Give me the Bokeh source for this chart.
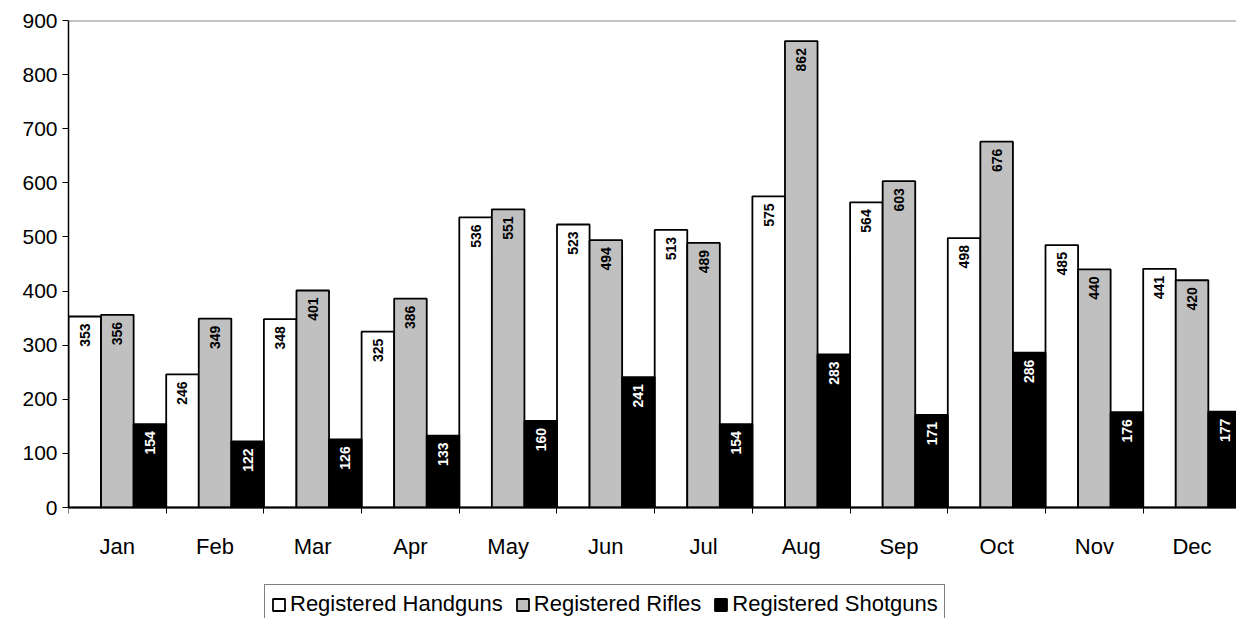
import math
from bokeh.plotting import figure
from bokeh.models import (ColumnDataSource, Range1d, FixedTicker, Span, Legend, LegendItem)
from bokeh.core.properties import value
from bokeh.embed import file_html
from bokeh.resources import INLINE

months = ["Jan", "Feb", "Mar", "Apr", "May", "Jun", "Jul", "Aug", "Sep", "Oct", "Nov", "Dec"]
handguns = [353, 246, 348, 325, 536, 523, 513, 575, 564, 498, 485, 441]
rifles = [356, 349, 401, 386, 551, 494, 489, 862, 603, 676, 440, 420]
shotguns = [154, 122, 126, 133, 160, 241, 154, 283, 171, 286, 176, 177]
series_names = ["Registered Handguns", "Registered Rifles", "Registered Shotguns"]
y_ticks = [0, 100, 200, 300, 400, 500, 600, 700, 800, 900]

FONT = "Liberation Sans"

# frame spans the whole height below the top border; value 0 sits 111px above the bottom
Y_MAX = 900
px_per_unit = 487 / Y_MAX
y_min = -111 / px_per_unit

p = figure(width=1236, height=618, output_backend="svg", toolbar_location=None,
           x_range=Range1d(0, 11.955), y_range=Range1d(y_min, Y_MAX),
           min_border_left=68, min_border_right=0, min_border_top=20, min_border_bottom=0)
p.outline_line_color = None
p.xgrid.visible = False
p.ygrid.visible = False
p.background_fill_color = "white"
p.border_fill_color = "white"

n = len(months)
centers = [i + 0.5 for i in range(n)]
fills = ["white", "#C0C0C0", "black"]
text_colors = ["black", "black", "white"]
data_series = [handguns, rifles, shotguns]
renderers = []
for k, (vals, fc, tc) in enumerate(zip(data_series, fills, text_colors)):
    xs = [i + (2 * k + 1) / 6 for i in range(n)]
    src = ColumnDataSource(dict(x=xs, top=vals, label=[str(v) for v in vals]))
    r = p.vbar(x="x", top="top", bottom=0, width=1 / 3, source=src,
               fill_color=fc, line_color="black", line_width=1.8)
    renderers.append(r)
    p.text(x="x", y="top", text="label", source=src, angle=math.pi / 2,
           text_align="right", text_baseline="middle", y_offset=7,
           text_font=value(FONT), text_font_size="14px", text_font_style="bold",
           text_color=tc)

p.add_layout(Span(location=Y_MAX, dimension="width", line_color="#888888", line_width=2))

# y axis
ya = p.yaxis[0]
ya.ticker = FixedTicker(ticks=y_ticks)
ya.bounds = (0, Y_MAX)
ya.major_label_text_font = FONT
ya.major_label_text_font_size = "21px"
ya.major_label_text_color = "black"
ya.major_tick_out = 6
ya.major_tick_in = 0
ya.minor_tick_out = 0
ya.minor_tick_in = 0
ya.major_label_standoff = 5
ya.axis_line_color = "black"
ya.axis_line_width = 1.5
ya.major_tick_line_color = "black"

# x axis, drawn at value 0 inside the frame
xa = p.xaxis[0]
xa.fixed_location = 0
xa.ticker = FixedTicker(ticks=centers, minor_ticks=list(range(n + 1)))
xa.major_label_overrides = {c: m for c, m in zip(centers, months)}
xa.major_label_text_font = FONT
xa.major_label_text_font_size = "22px"
xa.major_label_text_color = "black"
xa.major_tick_out = 0
xa.major_tick_in = 0
xa.minor_tick_out = 6
xa.minor_tick_in = 0
xa.minor_tick_line_color = "black"
xa.major_label_standoff = 20
xa.axis_line_color = "black"
xa.axis_line_width = 1.5

legend = Legend(items=[LegendItem(label=nm, renderers=[r]) for nm, r in zip(series_names, renderers)],
                orientation="horizontal", location=(196, -6),
                label_text_font=FONT, label_text_font_size="22px", label_text_color="black",
                glyph_width=15, glyph_height=15, label_standoff=4, spacing=12,
                padding=6, margin=0, border_line_color="black", border_line_width=1,
                background_fill_color="white", background_fill_alpha=1.0)
p.add_layout(legend, "center")

open("out.html", "w").write(file_html(p, INLINE))
